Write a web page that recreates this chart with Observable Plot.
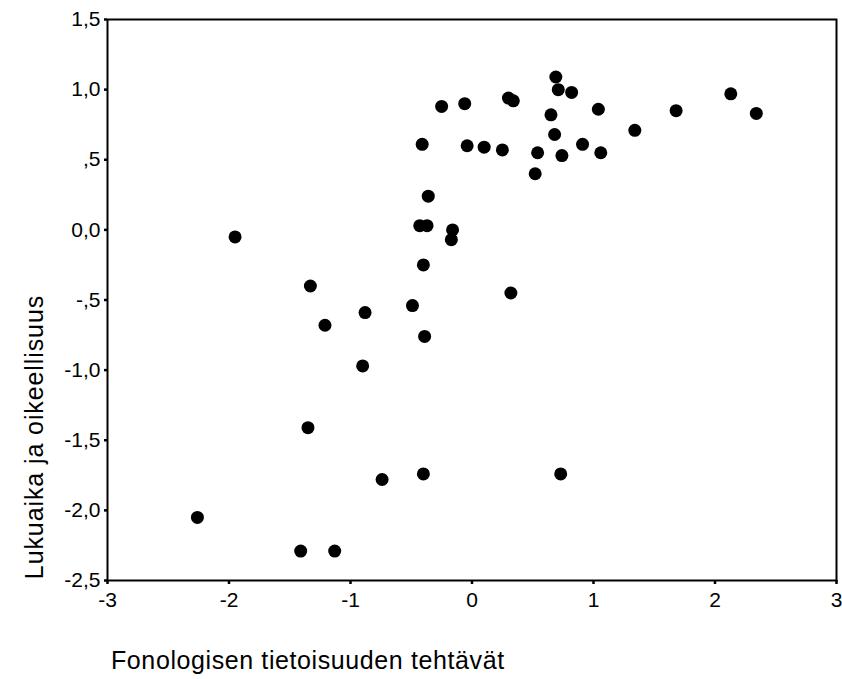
<!DOCTYPE html>
<html>
<head>
<meta charset="utf-8">
<script src="https://cdn.jsdelivr.net/npm/d3@7"></script>
<script src="https://cdn.jsdelivr.net/npm/@observablehq/plot@0.6"></script>
<style>
  body { margin: 0; background: #fff; }
  #wrap { position: relative; width: 842px; height: 679px; font-family: "Liberation Sans", Arial, sans-serif; color: #000; }
  #ylab { position: absolute; left: 34px; top: 437px; font-size: 25px; line-height: 25px; letter-spacing: 0.9px; white-space: nowrap; transform: translate(-50%, -50%) rotate(-90deg); }
  #xlab { position: absolute; left: 111px; top: 648px; font-size: 25px; line-height: 25px; letter-spacing: 0.6px; white-space: nowrap; }
  #chart svg text { font-size: 21px !important; font-family: "Liberation Sans", Arial, sans-serif !important; fill: #000; stroke: none !important; }
  #chart svg g[aria-label="x-axis tick"], #chart svg g[aria-label="y-axis tick"] { stroke-width: 2.5px !important; stroke: #000; }
  #chart svg .tick line { stroke-width: 2.5px !important; stroke: #000; }
</style>
</head>
<body>
<div id="wrap">
  <div id="chart"></div>
  <div id="ylab">Lukuaika ja oikeellisuus</div>
  <div id="xlab">Fonologisen tietoisuuden tehtävät</div>
</div>
<script>
// Fonologisen tietoisuuden tehtävät (x) and Lukuaika ja oikeellisuus (y)
const xValues = [-1.95, -1.33, -1.21, -0.88, -0.90, -1.35, -0.74, -2.26, -1.41, -1.13,
                 -0.49, -0.39, -0.40, 0.73, 0.32, -0.40, -0.43, -0.37, -0.16, -0.17,
                 -0.36, -0.41, -0.25, -0.06, -0.04, 0.10, 0.25, 0.30, 0.34, 0.54,
                 0.52, 0.69, 0.71, 0.82, 0.65, 0.68, 0.74, 0.91, 1.04, 1.06,
                 1.34, 1.68, 2.13, 2.34];
const yValues = [-0.05, -0.40, -0.68, -0.59, -0.97, -1.41, -1.78, -2.05, -2.29, -2.29,
                 -0.54, -0.76, -1.74, -1.74, -0.45, -0.25, 0.03, 0.03, 0.00, -0.07,
                 0.24, 0.61, 0.88, 0.90, 0.60, 0.59, 0.57, 0.94, 0.92, 0.55,
                 0.40, 1.09, 1.00, 0.98, 0.82, 0.68, 0.53, 0.61, 0.86, 0.55,
                 0.71, 0.85, 0.97, 0.83];
const xTicks = [-3, -2, -1, 0, 1, 2, 3];
const yTicks = [-2.5, -2.0, -1.5, -1.0, -0.5, 0.0, 0.5, 1.0, 1.5];

const data = xValues.map((x, i) => ({x, y: yValues[i]}));

const fmtY = d => {
  let s = Math.abs(d).toFixed(1).replace(".", ",");
  if (Math.abs(d) < 1 && d !== 0) s = s.replace(/^0/, "");
  return (d < 0 ? "-" : "") + s;
};

const chart = Plot.plot({
  width: 842,
  height: 625,
  marginLeft: 107,
  marginRight: 6,
  marginTop: 19,
  marginBottom: 45,
  style: {fontFamily: '"Liberation Sans", Arial, sans-serif', fontSize: "21px", color: "#000", background: "#fff"},
  x: {domain: [-3, 3], ticks: xTicks, tickFormat: d => String(d), tickSize: 4, tickPadding: 8, label: null},
  y: {domain: [-2.5, 1.5], ticks: yTicks, tickFormat: fmtY, tickSize: 3, tickPadding: 4, label: null},
  marks: [
    Plot.frame({stroke: "#000", strokeWidth: 2}),
    Plot.dot(data, {x: "x", y: "y", r: 6.5, fill: "#000", stroke: "none"})
  ]
});
document.getElementById("chart").appendChild(chart);
</script>
</body>
</html>
